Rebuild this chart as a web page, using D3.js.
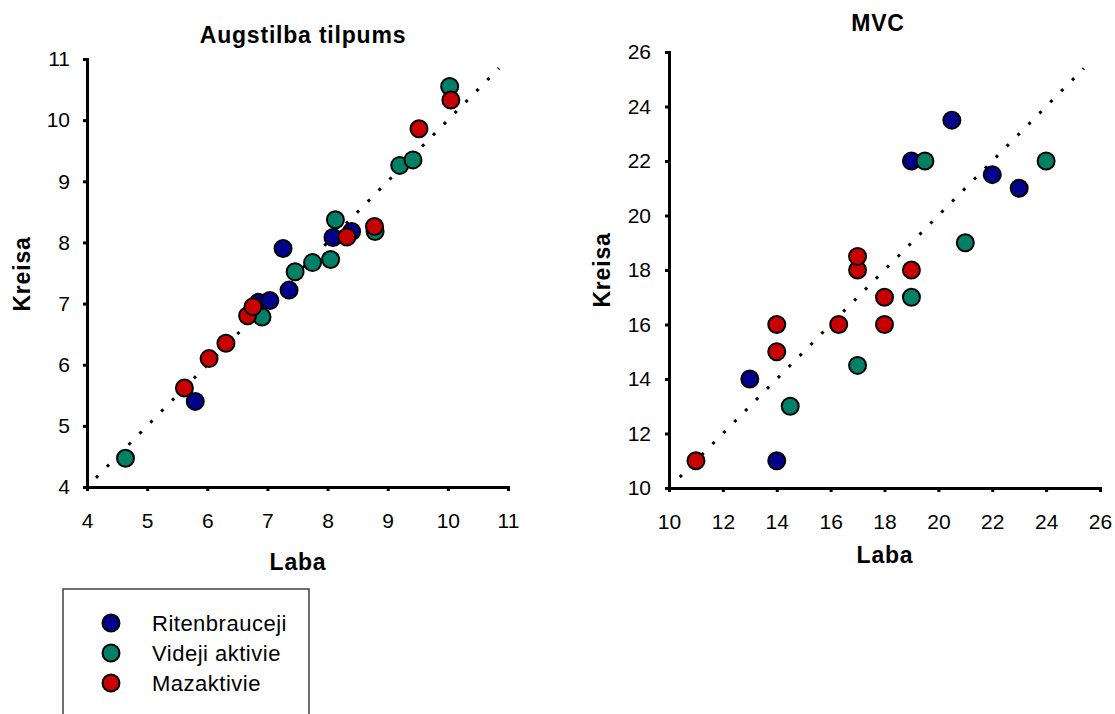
<!DOCTYPE html>
<html>
<head>
<meta charset="utf-8">
<script src="https://cdn.jsdelivr.net/npm/d3@7"></script>
<style>
  html, body { margin: 0; padding: 0; background: #fff; }
  svg { display: block; font-family: "Liberation Sans", Arial, sans-serif; }
</style>
</head>
<body>
<svg id="chart" width="1115" height="714"></svg>
<script>
// ---------- Data ----------
const seriesNames = ["Ritenbrauceji", "Videji aktivie", "Mazaktivie"];
const seriesColors = ["#00008c", "#008066", "#c80000"];

// Left chart: Augstilba tilpums
const leftTitle = "Augstilba tilpums";
const leftTicks = [4, 5, 6, 7, 8, 9, 10, 11];
const leftRefLine = [4.15, 10.85];
const leftBlueX  = [5.80, 6.85, 7.04, 7.36, 7.26, 8.09, 8.40];
const leftBlueY  = [5.40, 7.02, 7.05, 7.22, 7.90, 8.08, 8.18];
const leftGreenX = [4.64, 6.91, 7.46, 7.75, 8.05, 8.13, 8.79, 9.20, 9.42, 10.03];
const leftGreenY = [4.47, 6.78, 7.52, 7.67, 7.72, 8.37, 8.18, 9.26, 9.35, 10.55];
const leftRedX   = [5.62, 6.03, 6.31, 6.67, 6.76, 8.32, 8.78, 9.52, 10.05];
const leftRedY   = [5.62, 6.10, 6.35, 6.80, 6.95, 8.09, 8.26, 9.86, 10.33];

// Right chart: MVC
const rightTitle = "MVC";
const rightTicks = [10, 12, 14, 16, 18, 20, 22, 24, 26];
const rightRefLine = [10.4, 25.4];
const rightBlueX  = [13, 14, 19, 20.5, 22, 23];
const rightBlueY  = [14, 11, 22, 23.5, 21.5, 21];
const rightGreenX = [14.5, 17, 19, 19.5, 21, 24];
const rightGreenY = [13, 14.5, 17, 22, 19, 22];
const rightRedX   = [11, 14, 14, 16.3, 17, 17, 18, 18, 19];
const rightRedY   = [11, 15, 16, 16, 18, 18.5, 17, 16, 18];

const xLabel = "Laba";
const yLabel = "Kreisa";

// ---------- Drawing ----------
const svg = d3.select("#chart");
const R = 8.5;

function zip(xs, ys) { return xs.map((x, i) => [x, ys[i]]); }

function drawPanel(cfg) {
  const x = d3.scaleLinear().domain(cfg.domain).range([cfg.left, cfg.right]);
  const y = d3.scaleLinear().domain(cfg.domain).range([cfg.bottom, cfg.top]);
  const g = svg.append("g");

  // x axis
  const xa = g.append("g")
    .attr("transform", `translate(0,${cfg.bottom})`)
    .call(d3.axisBottom(x).tickValues(cfg.ticks).tickSize(4).tickSizeOuter(4).tickPadding(22).tickFormat(d3.format("d")));
  // y axis
  const ya = g.append("g")
    .attr("transform", `translate(${cfg.left},0)`)
    .call(d3.axisLeft(y).tickValues(cfg.ticks).tickSize(4).tickSizeOuter(4).tickPadding(cfg.yPad).tickFormat(d3.format("d")));
  [xa, ya].forEach(a => {
    a.select(".domain").attr("stroke", "#000").attr("stroke-width", 3);
    a.selectAll(".tick line").attr("stroke", "#000").attr("stroke-width", 3);
    a.selectAll(".tick text").attr("fill", "#000").attr("font-size", 21)
      .attr("font-family", "Liberation Sans, Arial, sans-serif");
  });

  // reference (identity) dotted line
  g.append("line")
    .attr("x1", x(cfg.ref[0])).attr("y1", y(cfg.ref[0]))
    .attr("x2", x(cfg.ref[1])).attr("y2", y(cfg.ref[1]))
    .attr("stroke", "#000").attr("stroke-width", 3)
    .attr("stroke-dasharray", "3,12.5");

  // points
  cfg.series.forEach((s, i) => {
    g.append("g").selectAll("circle").data(s).join("circle")
      .attr("cx", d => x(d[0])).attr("cy", d => y(d[1])).attr("r", R)
      .attr("fill", seriesColors[i]).attr("stroke", "#000").attr("stroke-width", 2);
  });

  // title
  g.append("text").attr("x", cfg.titleX).attr("y", cfg.titleY)
    .attr("text-anchor", "middle").attr("font-size", 23).attr("font-weight", "bold")
    .attr("letter-spacing", 0.8).text(cfg.title);
  // x label
  g.append("text").attr("x", cfg.xlabX).attr("y", cfg.xlabY)
    .attr("text-anchor", "middle").attr("font-size", 23).attr("font-weight", "bold")
    .attr("letter-spacing", 0.8).text(xLabel);
  // y label
  g.append("text").attr("transform", `translate(${cfg.ylabX},${cfg.ylabY}) rotate(-90)`)
    .attr("text-anchor", "middle").attr("font-size", 23).attr("font-weight", "bold")
    .attr("letter-spacing", 0.8).text(yLabel);
}

drawPanel({
  domain: [4, 11], ticks: leftTicks, left: 87, right: 508, top: 59, bottom: 487, yPad: 13,
  ref: leftRefLine,
  series: [zip(leftBlueX, leftBlueY), zip(leftGreenX, leftGreenY), zip(leftRedX, leftRedY)],
  title: leftTitle, titleX: 303, titleY: 43,
  xlabX: 298, xlabY: 570, ylabX: 30, ylabY: 274
});

drawPanel({
  domain: [10, 26], ticks: rightTicks, left: 669, right: 1100, top: 52, bottom: 488, yPad: 14,
  ref: rightRefLine,
  series: [zip(rightBlueX, rightBlueY), zip(rightGreenX, rightGreenY), zip(rightRedX, rightRedY)],
  title: rightTitle, titleX: 878, titleY: 31,
  xlabX: 885, xlabY: 563, ylabX: 610, ylabY: 270
});

// legend
const lg = svg.append("g");
lg.append("rect").attr("x", 63).attr("y", 589).attr("width", 246).attr("height", 150)
  .attr("fill", "#fff").attr("stroke", "#404040").attr("stroke-width", 1.5);
const legY = d3.scalePoint().domain(seriesNames).range([623, 683]);
seriesNames.forEach((n, i) => {
  lg.append("circle").attr("cx", 111).attr("cy", legY(n)).attr("r", R)
    .attr("fill", seriesColors[i]).attr("stroke", "#000").attr("stroke-width", 2);
  lg.append("text").attr("x", 152).attr("y", legY(n)).attr("dy", "0.36em")
    .attr("font-size", 22).attr("letter-spacing", 0.5).text(n);
});
</script>
</body>
</html>
